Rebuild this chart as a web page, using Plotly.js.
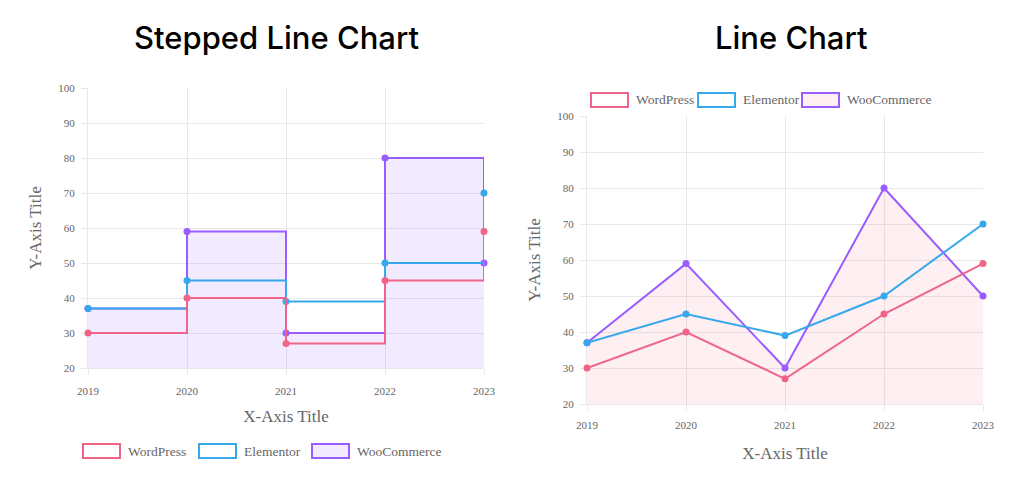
<!DOCTYPE html>
<html>
<head>
<meta charset="utf-8">
<script src="https://cdn.plot.ly/plotly-3.0.1.min.js"></script>
<style>html,body{margin:0;padding:0;background:#fff;}#chart{width:1024px;height:503px;}</style>
</head>
<body>
<div id="chart"></div>
<script>
const years = ['2019', '2020', '2021', '2022', '2023'];
const seriesNames = ['WordPress', 'Elementor', 'WooCommerce'];
const wordpress = [30, 40, 27, 45, 59];
const elementor = [37, 45, 39, 50, 70];
const woocommerce = [37, 59, 30, 80, 50];
const yTicks = [20, 30, 40, 50, 60, 70, 80, 90, 100];

const colors = {
  WordPress: 'rgb(240,100,136)',
  Elementor: 'rgb(54,168,235)',
  WooCommerce: 'rgb(153,92,255)'
};
const fillLeft = 'rgba(153,102,255,0.13)';
const fillRight = 'rgba(250,99,132,0.10)';

const values = { WordPress: wordpress, Elementor: elementor, WooCommerce: woocommerce };

const traces = [];
function addChart(xa, ya, shape, fillColor) {
  ['WooCommerce', 'Elementor', 'WordPress'].forEach(name => {
    const t = {
      type: 'scatter', mode: 'lines+markers', name: name,
      x: years, y: values[name], xaxis: xa, yaxis: ya,
      line: { color: colors[name], width: 2, shape: shape },
      marker: { color: colors[name], size: 7 },
      cliponaxis: false, showlegend: false, hoverinfo: 'x+y+name'
    };
    if (name === 'WooCommerce') { t.fill = 'tozeroy'; t.fillcolor = fillColor; }
    traces.push(t);
  });
}
addChart('x', 'y', 'hv', fillLeft);
addChart('x2', 'y2', 'linear', fillRight);

const W = 1024, H = 503;
const px = v => v / W, py = v => 1 - v / H;
const tickFont = { family: 'Liberation Serif, Times New Roman, serif', size: 11, color: '#666' };
const titleFont = { family: 'Liberation Serif, Times New Roman, serif', size: 17, color: '#666' };
const gridColor = '#e8e8e8';

function xAxis(domain, anchor, labelOff, titleOff) {
  return {
    domain: domain, anchor: anchor, type: 'category', range: [0, 4],
    showgrid: true, gridcolor: gridColor, zeroline: false, layer: 'below traces',
    showline: true, linecolor: gridColor, ticks: 'outside', ticklen: 6, tickcolor: gridColor,
    ticklabelstandoff: labelOff,
    tickfont: tickFont, fixedrange: true,
    title: { text: 'X-Axis Title', font: titleFont, standoff: titleOff }
  };
}
function yAxis(domain, anchor) {
  return {
    domain: domain, anchor: anchor, range: [20, 100], tickvals: yTicks,
    showgrid: true, gridcolor: gridColor, zeroline: false, layer: 'below traces',
    showline: true, linecolor: gridColor, ticks: 'outside', ticklen: 6, tickcolor: gridColor,
    ticklabelstandoff: 4,
    tickfont: tickFont, fixedrange: true,
    title: { text: 'Y-Axis Title', font: titleFont, standoff: 12 }
  };
}

const shapes = [];
const annotations = [
  { text: 'Stepped Line Chart', x: px(276), y: py(38), xref: 'paper', yref: 'paper', showarrow: false,
    xanchor: 'center', yanchor: 'middle', font: { family: 'Inter, sans-serif', size: 31, color: '#000', weight: 500 } },
  { text: 'Line Chart', x: px(791), y: py(38), xref: 'paper', yref: 'paper', showarrow: false,
    xanchor: 'center', yanchor: 'middle', font: { family: 'Inter, sans-serif', size: 31, color: '#000', weight: 500 } }
];

function legend(boxXs, cy, fillColor) {
  seriesNames.forEach((name, i) => {
    const x0 = boxXs[i];
    shapes.push({ type: 'rect', xref: 'paper', yref: 'paper',
      x0: px(x0), x1: px(x0 + 37), y0: py(cy + 7), y1: py(cy - 7),
      line: { color: colors[name], width: 2 },
      fillcolor: name === 'WooCommerce' ? fillColor : 'rgba(0,0,0,0)' });
    annotations.push({ text: name, x: px(x0 + 43), y: py(cy), xref: 'paper', yref: 'paper', showarrow: false,
      xanchor: 'left', yanchor: 'middle',
      font: { family: 'Liberation Serif, Times New Roman, serif', size: 13.5, color: '#666' } });
  });
}
legend([83, 199, 312], 451, fillLeft);
legend([591, 698, 802], 100, fillRight);

const layout = {
  width: W, height: H, margin: { l: 0, r: 0, t: 0, b: 0 },
  paper_bgcolor: '#fff', plot_bgcolor: '#fff', showlegend: false,
  xaxis: xAxis([px(88), px(484)], 'y', 7, 13),
  yaxis: yAxis([py(368), py(88)], 'x'),
  xaxis2: xAxis([px(587), px(983)], 'y2', 5, 16),
  yaxis2: yAxis([py(404), py(116)], 'x2'),
  shapes: shapes, annotations: annotations
};

Plotly.newPlot('chart', traces, layout, { displayModeBar: false });
</script>
</body>
</html>
